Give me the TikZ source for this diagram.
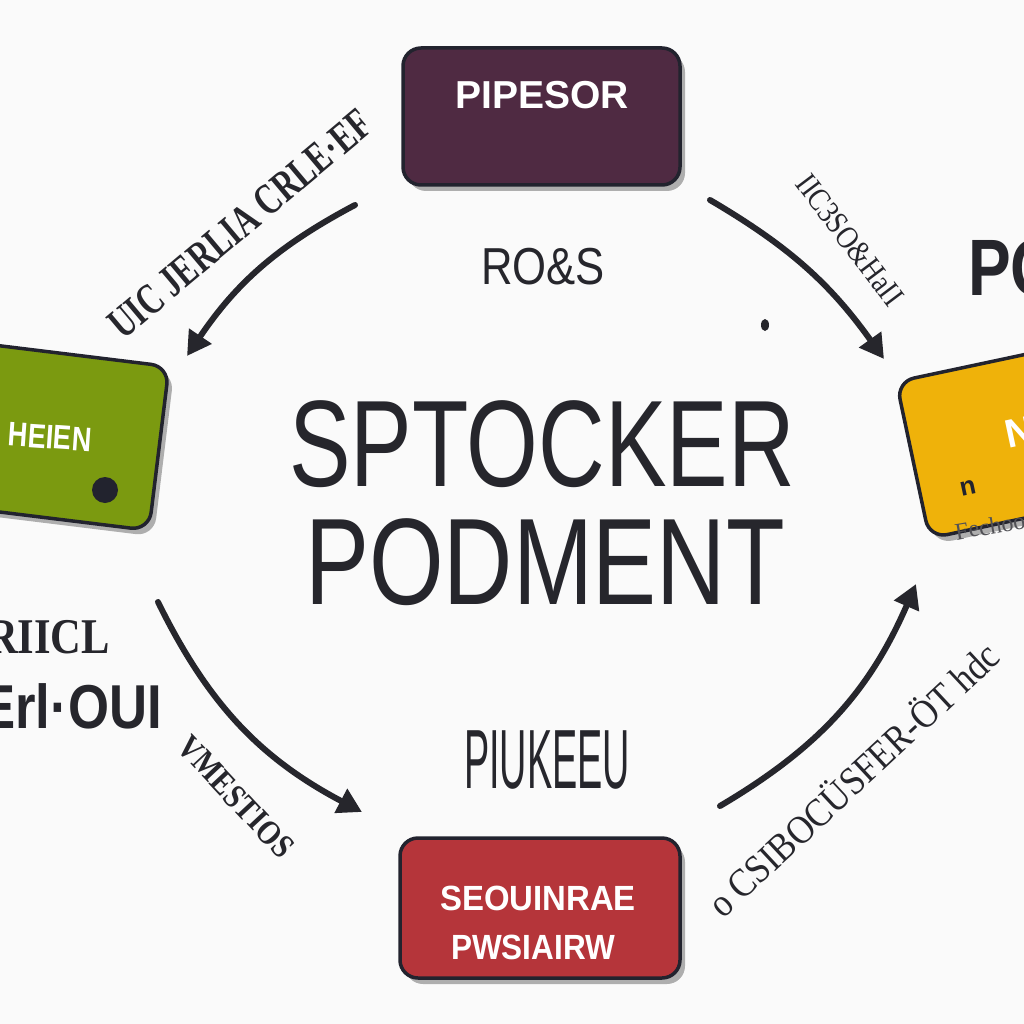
\documentclass[tikz,border=0pt]{standalone}
\usepackage{fontspec}
\setmainfont{Liberation Sans}
\newfontfamily\serifb{Liberation Serif}
\usetikzlibrary{arrows.meta,shadows}
\definecolor{bg}{HTML}{FAFAFA}
\definecolor{ink}{HTML}{26262C}
\definecolor{edge}{HTML}{22232E}
\definecolor{plum}{HTML}{4F2A42}
\definecolor{leaf}{HTML}{7B9A10}
\definecolor{gold}{HTML}{EFB20A}
\definecolor{brick}{HTML}{B5353A}
\newcommand{\fsz}[1]{\fontsize{#1}{#1}\selectfont}
\begin{document}
\begin{tikzpicture}[x=1pt,y=-1pt,
  box/.style={draw=edge, line width=3.5pt, rounded corners=18pt, inner sep=0pt,
    drop shadow={shadow xshift=5pt, shadow yshift=-6pt, opacity=.3, fill=black}},
  boxtext/.style={text=white, font=\bfseries, inner sep=0pt},
  flow/.style={line width=6pt, draw=ink, line cap=round, -{Triangle[length=24pt,width=26pt]}},
  lbl/.style={text=ink, inner sep=0pt},
  big/.style={text=ink, inner sep=0pt}]
\useasboundingbox[fill=bg] (0,0) rectangle (1024,1024);

% boxes
\node[box, fill=plum, minimum width=277pt, minimum height=137pt] (top) at (541.5,116.5) {};
\node[boxtext, font=\bfseries\fsz{39}] (toptext) at (542,95) {PIPESOR};

\node[box, fill=leaf, minimum width=270pt, minimum height=165pt, rotate=-7] (left) at (25,432) {};
\node[boxtext, font=\bfseries\fsz{34}, rotate=-4, xscale=.8] (lefttext) at (50,437) {HEIEN};
\node[circle, fill=edge, minimum size=26pt, inner sep=0pt] (leftdot) at (105,490) {};

\node[box, fill=gold, minimum width=270pt, minimum height=160pt, rotate=12] (right) at (1045,432) {};
\node[boxtext, font=\bfseries\fsz{40}, rotate=12] (righttext) at (1020,432) {N};
\node[lbl, font=\bfseries\fsz{26}, text=edge, rotate=12] (rightmark) at (968,488) {n};
\node[lbl, font=\serifb\fsz{24}, rotate=10, text=ink!80] (rightcap) at (990,526) {Fechoo};

\node[box, fill=brick, minimum width=280pt, minimum height=140pt] (bottom) at (540,908) {};
\node[boxtext, font=\bfseries\fsz{35}, xscale=.94] (bottomtext1) at (538,898) {SEOUINRAE};
\node[boxtext, font=\bfseries\fsz{35}, xscale=.9] (bottomtext2) at (533,947) {PWSIAIRW};

% central text
\node[big, font=\fsz{123}, xscale=.75] (title1) at (542,444) {SPTOCKER};
\node[big, font=\fsz{123}, xscale=.78] (title2) at (545,562) {PODMENT};
\node[big, font=\fsz{52}, xscale=.84] (ros) at (543,267) {RO\&S};
\node[big, font=\fsz{84}, xscale=.45] (piukeeu) at (547,760) {PIUKEEU};

% arrows
\coordinate (a1s) at (355,205); \coordinate (a1e) at (187,356);
\coordinate (a2s) at (710,200); \coordinate (a2e) at (884,359);
\coordinate (a3s) at (158,602); \coordinate (a3e) at (362,812);
\coordinate (a4s) at (720,806); \coordinate (a4e) at (916,584);
\draw[flow] (a1s) to[bend right=14] (a1e);
\draw[flow] (a2s) to[bend left=12] (a2e);
\draw[flow] (a3s) to[bend right=18] (a3e);
\draw[flow] (a4s) to[bend right=18] (a4e);
\fill[ink] (765,325) ellipse (4pt and 6pt);

% rotated labels
\node[lbl, font=\serifb\bfseries\fsz{44}, rotate=40, xscale=.72] (tl) at (240,224) {UIC JERLIA CRLE·EF};
\node[lbl, font=\serifb\fsz{32}, rotate=-53, xscale=.85] (tr) at (850,240) {IIC3SO\&HaII};
\node[lbl, font=\bfseries\fsz{80}, anchor=west, xscale=.8] (po) at (968,268) {PO};
\node[lbl, font=\serifb\bfseries\fsz{50}, anchor=east, xscale=.85] (l1) at (110,637) {RIICL};
\node[lbl, font=\bfseries\fsz{62}, anchor=east, xscale=.85] (l2) at (162,706) {Erl·OUI};
\node[lbl, font=\serifb\bfseries\fsz{34}, rotate=-47, xscale=.85] (bl) at (236,797) {VMESTIOS};
\node[lbl, font=\serifb\fsz{40}, rotate=43, xscale=.88] (br) at (852,778) {o CSIBOCÜSFER-ÖT hdc};
\end{tikzpicture}
\end{document}
